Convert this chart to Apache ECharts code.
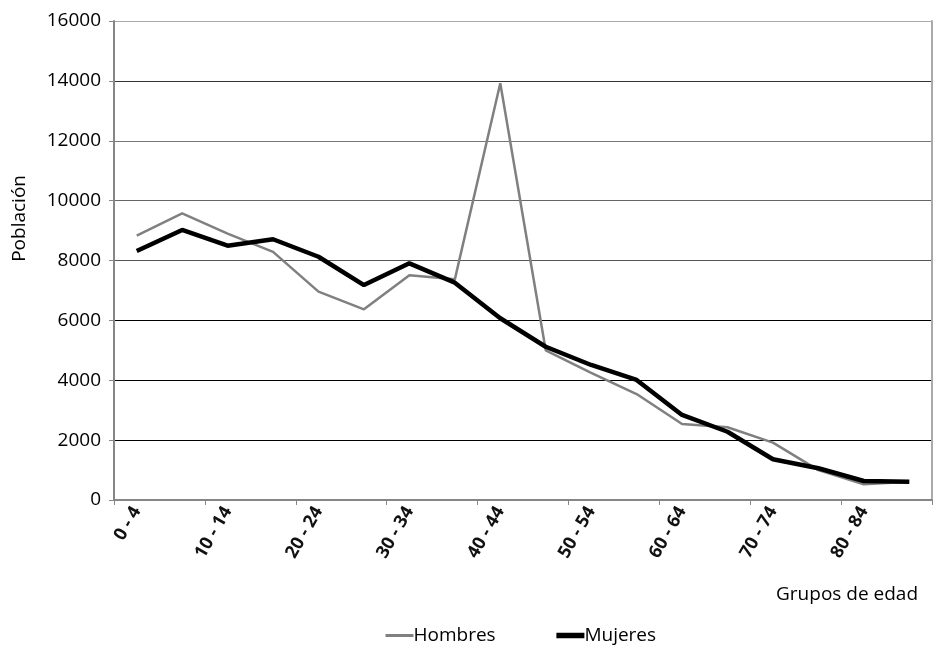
<!DOCTYPE html>
<html><head><meta charset="utf-8">
<script src="https://cdn.jsdelivr.net/npm/echarts@6/dist/echarts.min.js"></script>
<style>html,body{margin:0;padding:0;background:#fff}#c{width:933px;height:648px}</style>
</head><body><div id="c"></div>
<script>
const categories = ["0 - 4","5 - 9","10 - 14","15 - 19","20 - 24","25 - 29","30 - 34","35 - 39","40 - 44","45 - 49","50 - 54","55 - 59","60 - 64","65 - 69","70 - 74","75 - 79","80 - 84","85 +"];
const hombres = [8830,9575,8900,8290,6960,6370,7505,7370,13920,5000,4250,3540,2540,2430,1915,1000,525,610];
const mujeres = [8320,9020,8495,8710,8125,7180,7905,7260,6070,5120,4510,4010,2840,2280,1360,1060,635,610];
const yTicks = [0,2000,4000,6000,8000,10000,12000,14000,16000];

const FONT = '"Open Sans", "Liberation Sans", sans-serif';
const chart = echarts.init(document.getElementById('c'), null, {renderer:'canvas'});
chart.setOption({
  animation:false,
  backgroundColor:'#fff',
  grid:{left:114,right:1,top:21,bottom:148,containLabel:false},
  legend:{
    top:621,left:379,itemGap:58,itemWidth:28,itemHeight:14,
    itemStyle:{opacity:0},
    textStyle:{fontFamily:FONT,fontSize:19,color:'#000',padding:[0,0,0,-5]},
    data:[
      {name:'Hombres',lineStyle:{color:'#808080',width:3}},
      {name:'Mujeres',lineStyle:{color:'#000',width:5.5}}
    ]
  },
  xAxis:{
    type:'category',data:categories,boundaryGap:true,
    axisLine:{lineStyle:{color:'#868686',width:2}},
    axisTick:{show:true,length:5,lineStyle:{color:'#868686',width:1}},
    axisLabel:{interval:1,rotate:60,fontFamily:FONT,fontSize:18,fontWeight:'bold',color:'#111',margin:8}
  },
  yAxis:[{
    type:'value',min:0,max:16000,interval:2000,
    axisLine:{show:true,lineStyle:{color:'#868686',width:2}},
    axisTick:{show:true,length:5,lineStyle:{color:'#868686'}},
    axisLabel:{fontFamily:FONT,fontSize:19,color:'#000',margin:13,
      formatter:function(v){return yTicks.indexOf(v)>=0?String(v):'';}},
    splitLine:{show:true,lineStyle:{color:['#000','#000','#000','#000','#555','#666','#777','#333','#aaa'],width:1}}
  },{
    type:'value',min:0,max:16000,interval:2000,position:'right',
    axisLine:{show:true,lineStyle:{color:'#aaa',width:2}},
    axisTick:{show:false},axisLabel:{show:false},splitLine:{show:false}
  }],
  graphic:[{
    type:'text',left:10,top:175,rotation:Math.PI/2,
    style:{text:'Población',font:'19px '+FONT,fill:'#000'}
  },{
    type:'text',right:15,top:585,
    style:{text:'Grupos de edad',font:'19px '+FONT,fill:'#000'}
  }],
  series:[{
    name:'Hombres',type:'line',data:hombres,symbol:'none',
    lineStyle:{color:'#808080',width:2.5},itemStyle:{color:'#808080'}
  },{
    name:'Mujeres',type:'line',data:mujeres,symbol:'none',
    lineStyle:{color:'#000',width:4.5},itemStyle:{color:'#000'}
  }]
});
</script></body></html>
